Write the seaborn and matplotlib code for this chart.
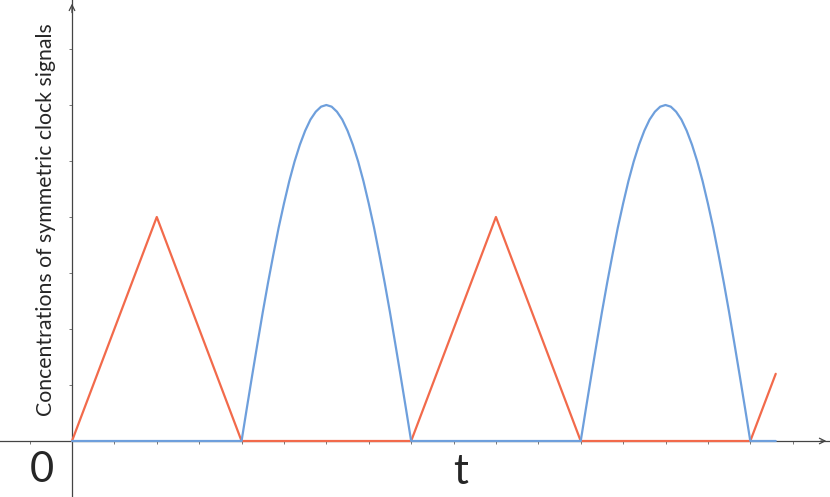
import pandas as pd
import numpy as np
import seaborn as sns
import matplotlib
matplotlib.use('Agg')
import matplotlib.pyplot as plt

sns.set_style('white')
plt.rcParams['font.family'] = ['Lato', 'DejaVu Sans']

# sinal vermelho (triangular)
t_vermelho = [0, 2, 4, 8, 10, 12, 16, 16.6]
y_vermelho = [0, 4, 0, 0, 4, 0, 0, 1.2]

# sinal azul: arco (meio arco, simetrico)
meio_offsets = [0, 0.125, 0.25, 0.375, 0.5, 0.625, 0.75, 0.875, 1.0,
                1.125, 1.25, 1.375, 1.5, 1.625, 1.75, 1.875, 2.0]
meio_valores = [0, 0.59, 1.17, 1.74, 2.30, 2.83, 3.33, 3.81, 4.24,
                4.64, 4.99, 5.29, 5.54, 5.74, 5.88, 5.97, 6.0]
inicio_arcos = [4, 12]
t_fim = 16.6

arco_t = meio_offsets + [4 - o for o in meio_offsets[::-1][1:]]
arco_y = meio_valores + meio_valores[::-1][1:]

t_azul = [0]
y_azul = [0]
for ini in inicio_arcos:
    t_azul += [ini + o for o in arco_t]
    y_azul += arco_y
t_azul.append(t_fim)
y_azul.append(0)

df_vermelho = pd.DataFrame({'t': t_vermelho, 'c': y_vermelho})
df_azul = pd.DataFrame({'t': t_azul, 'c': y_azul})

fig = plt.figure(figsize=(8.3, 4.97), dpi=100)
ax = fig.add_axes([0, 0, 1, 1])

sns.lineplot(data=df_vermelho, x='t', y='c', color='#f26a4b', linewidth=1.6,
             sort=False, ax=ax, zorder=3)
sns.lineplot(data=df_azul, x='t', y='c', color='#6e9fdc', linewidth=1.6,
             sort=False, ax=ax, zorder=3)

ax.set_xlim(-1.698, 17.88)
ax.set_ylim(-1.0, 7.875)

# eixos cruzando na origem
for lado in ['top', 'right']:
    ax.spines[lado].set_visible(False)
for lado in ['left', 'bottom']:
    ax.spines[lado].set_position(('data', 0))
    ax.spines[lado].set_color('#444444')
    ax.spines[lado].set_linewidth(0.9)

ax.set_xticks(range(-1, 18))
ax.set_yticks(range(1, 8))
ax.tick_params(axis='both', length=2, width=0.7, color='#777777',
               direction='out', bottom=True, left=True,
               labelbottom=False, labelleft=False)
ax.set_xlabel('')
ax.set_ylabel('')

# pontas de seta
ax.annotate('', xy=(17.86, 0), xytext=(17.6, 0),
            arrowprops=dict(arrowstyle='->', color='#444444', lw=0.9))
ax.annotate('', xy=(0, 7.86), xytext=(0, 7.6),
            arrowprops=dict(arrowstyle='->', color='#444444', lw=0.9))

ax.text(-0.71, -0.52, '0', fontsize=30, ha='center', va='center')
ax.text(9.17, -0.55, 't', fontsize=30, ha='center', va='center')
ax.text(-0.62, 3.96, 'Concentrations of symmetric clock signals',
        rotation=90, fontsize=15.3, ha='center', va='center')

plt.savefig('out.png', dpi=100)
plt.close()
